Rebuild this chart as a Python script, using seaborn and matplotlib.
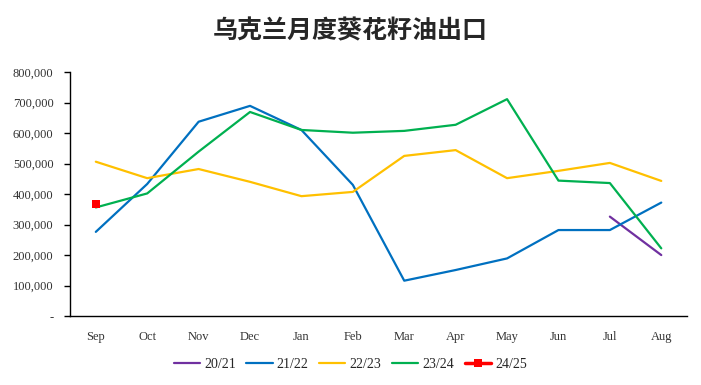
import numpy as np
import pandas as pd
import matplotlib
matplotlib.use("Agg")
import matplotlib.pyplot as plt
from matplotlib.ticker import FuncFormatter
import seaborn as sns

# dados
meses = ["Sep", "Oct", "Nov", "Dec", "Jan", "Feb", "Mar", "Apr", "May", "Jun", "Jul", "Aug"]
s2021 = [None, None, None, None, None, None, None, None, None, None, 326000, 200000]
s2122 = [276000, 433000, 637000, 689000, 610000, 430000, 116000, 151000, 189000, 282000, 282000, 372000]
s2223 = [506000, 452000, 482000, 440000, 393000, 407000, 525000, 544000, 452000, 476000, 502000, 443000]
s2324 = [356000, 402000, 539000, 669000, 610000, 601000, 607000, 627000, 711000, 444000, 436000, 222000]
s2425 = [366000, None, None, None, None, None, None, None, None, None, None, None]

series = {"20/21": s2021, "21/22": s2122, "22/23": s2223, "23/24": s2324, "24/25": s2425}
cores = {"20/21": "#7030A0", "21/22": "#0070C0", "22/23": "#FFC000", "23/24": "#00B050", "24/25": "#FF0000"}

sns.set_theme(style="white")
plt.rcParams["font.family"] = ["Liberation Serif", "Noto Sans CJK SC", "DejaVu Sans"]

fig = plt.figure(figsize=(7.01, 3.85), dpi=100)
ax = fig.add_axes([0.1, 0.179, 0.88, 0.634])

for nome, vals in series.items():
    df = pd.DataFrame({"x": np.arange(len(meses)), "y": pd.array(vals, dtype="Float64").astype(float)})
    df = df.dropna()
    if nome == "24/25":
        sns.lineplot(data=df, x="x", y="y", ax=ax, color=cores[nome], linewidth=2.5,
                     marker="s", markersize=6, markeredgewidth=0, label=nome)
    else:
        sns.lineplot(data=df, x="x", y="y", ax=ax, color=cores[nome], linewidth=1.6, label=nome)

ax.set_xlim(-0.5, len(meses) - 0.5)
ax.set_ylim(0, 800000)
ax.set_yticks(np.arange(0, 800001, 100000))
ax.yaxis.set_major_formatter(FuncFormatter(lambda v, p: "-" if v == 0 else f"{int(v):,}"))
ax.set_xticks(np.arange(len(meses)))
ax.set_xticklabels(meses)
ax.set_xlabel("")
ax.set_ylabel("")

for s in ["top", "right"]:
    ax.spines[s].set_visible(False)
for s in ["left", "bottom"]:
    ax.spines[s].set_color("black")
    ax.spines[s].set_linewidth(1.0)
ax.tick_params(axis="y", which="both", left=True, length=4, width=1, color="black",
               labelsize=9, labelcolor="#333333", pad=8)
ax.tick_params(axis="x", bottom=False, length=0, labelsize=9, labelcolor="#333333", pad=11)
ax.grid(False)

fig.suptitle("乌克兰月度葵花籽油出口", x=0.5, y=0.95, fontsize=18, fontweight="bold",
             family=["Noto Sans CJK SC", "DejaVu Sans"])

ax.legend(loc="center", bbox_to_anchor=(0.454, -0.197),
          ncol=5, frameon=False, fontsize=10, handlelength=1.9, columnspacing=0.75,
          handletextpad=0.3)

fig.savefig("out.png", dpi=100)
